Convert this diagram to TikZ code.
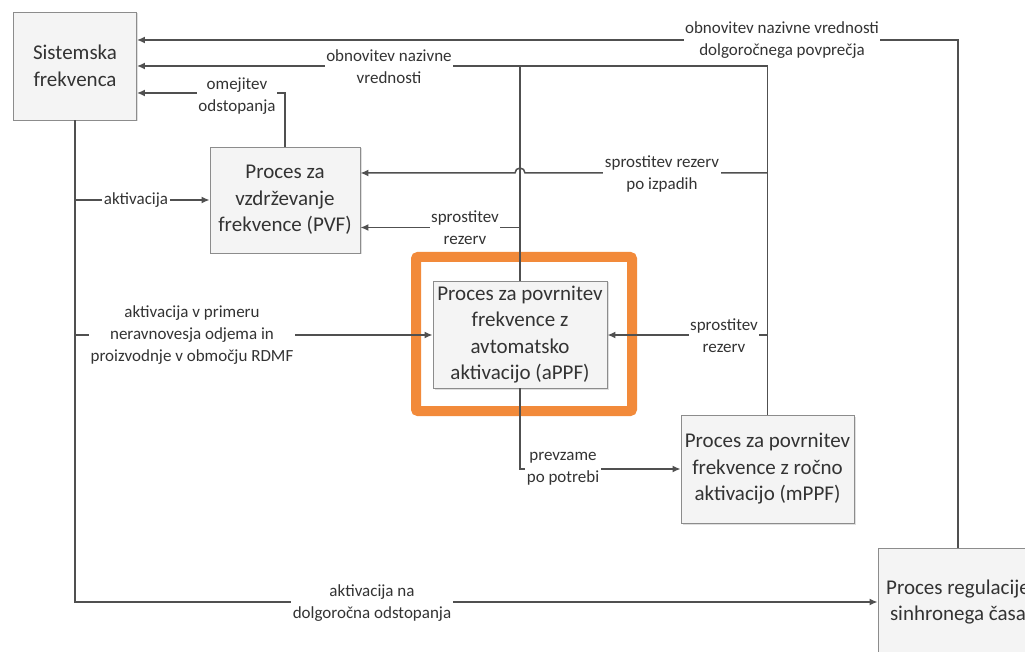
\documentclass[tikz,border=0pt]{standalone}
\usepackage{fontspec}
\setmainfont{Carlito}
\usetikzlibrary{arrows.meta,shadows}
\definecolor{ln}{HTML}{505050}
\definecolor{tx}{HTML}{333333}
\definecolor{bd}{HTML}{8C8C8C}
\definecolor{bf}{HTML}{F4F4F4}
\definecolor{og}{HTML}{F28A3A}
\tikzset{
  proc/.style={draw=bd, fill=bf, line width=0.9pt, align=center, text=tx,
    font=\fontsize{21}{26.5}\selectfont, inner sep=0pt,
    drop shadow={opacity=0.25, shadow xshift=1.5pt, shadow yshift=-1.5pt}},
  lbl/.style={fill=white, align=center, text=tx, font=\fontsize{17}{22}\selectfont, inner sep=1.5pt},
  conn/.style={draw=ln, line width=1.5pt},
  arr/.style={conn, -{Latex[length=8pt,width=7pt]}},
  frame/.style={draw=og, line width=10pt, rounded corners=2pt, inner sep=0pt}
}
\begin{document}
\begin{tikzpicture}[x=1pt,y=-1pt]
\useasboundingbox (0,0) rectangle (1025,652);
% highlight frame
\node[frame, minimum width=216pt, minimum height=154pt] (fr) at (524,334) {};
% boxes
\node[proc, minimum width=123pt, minimum height=108pt] (sis) at (75,66) {Sistemska\\frekvenca};
\node[proc, minimum width=150pt, minimum height=106pt] (pvf) at (285,200) {Proces za\\vzdrževanje\\frekvence (PVF)};
\node[proc, minimum width=174pt, minimum height=107pt] (appf) at (520,334.5) {Proces za povrnitev\\frekvence z\\avtomatsko\\aktivacijo (aPPF)};
\node[proc, minimum width=173pt, minimum height=108pt] (mppf) at (767.5,469) {Proces za povrnitev\\frekvence z ročno\\aktivacijo (mPPF)};
\node[proc, minimum width=160pt, minimum height=108pt] (reg) at (958,602) {Proces regulacije\\sinhronega časa};
% helper coordinates
\coordinate (s40) at (sis.east |- 0,40);
\coordinate (s66) at (sis.east |- 0,66);
\coordinate (s93) at (sis.east |- 0,93);
\coordinate (d200) at (sis.south |- 0,200);
\coordinate (d335) at (sis.south |- 0,335);
\coordinate (j66) at (appf.north |- 0,66);
\coordinate (j227) at (appf.north |- 0,227.5);
\coordinate (m173) at (mppf.north |- 0,173);
\coordinate (m335) at (mppf.north |- 0,335);
\coordinate (hopR) at ([xshift=5pt]appf.north |- 0,173);
\coordinate (a469) at (appf.south |- 0,469);
% connectors
\draw[arr] (reg.north) |- (s40);
\draw[arr] (mppf.north) |- (s66);
\draw[conn] (appf.north) -- (j66);
\draw[arr] (pvf.north) |- (s93);
\draw[arr] (sis.south) |- (reg.west);
\draw[arr] (d200) -- (pvf.west |- d200);
\draw[arr] (d335) -- (appf.west |- d335);
\draw[arr] (m173) -- (hopR) arc (0:180:5pt) -- (pvf.east |- m173);
\draw[arr] (j227) -- (pvf.east |- j227);
\draw[arr] (m335) -- (appf.east |- m335);
\draw[arr] (appf.south) |- (mppf.west |- a469);
% labels
\node[lbl] (l1) at (782,40) {obnovitev nazivne vrednosti\\dolgoročnega povprečja};
\node[lbl] (l2) at (389,67) {obnovitev nazivne\\vrednosti};
\node[lbl] (l3) at (237,96) {omejitev\\odstopanja};
\node[lbl] (l4) at (136,200) {aktivacija};
\node[lbl] (l5) at (662,174) {sprostitev rezerv\\po izpadih};
\node[lbl] (l6) at (465,228) {sprostitev\\rezerv};
\node[lbl] (l7) at (724,336) {sprostitev\\rezerv};
\node[lbl] (l8) at (192,335) {aktivacija v primeru\\neravnovesja odjema in\\proizvodnje v območju RDMF};
\node[lbl] (l9) at (563,469) {prevzame\\po potrebi};
\node[lbl] (l10) at (372,603) {aktivacija na\\dolgoročna odstopanja};
\end{tikzpicture}
\end{document}
